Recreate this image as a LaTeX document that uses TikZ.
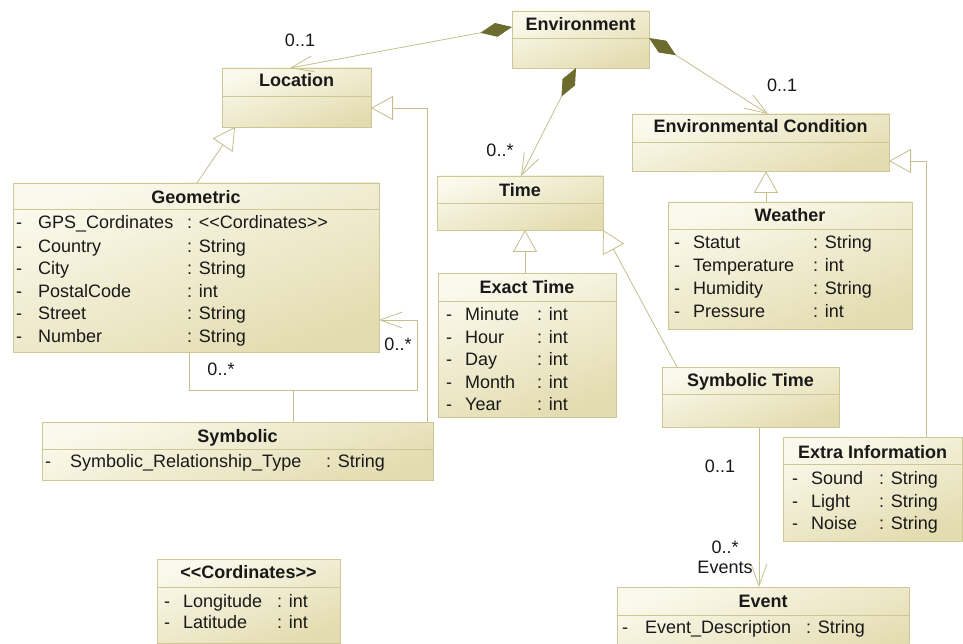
\documentclass[tikz,border=0pt]{standalone}
\usepackage{fontspec}
\setmainfont{Liberation Sans}
\usetikzlibrary{arrows.meta,fit}

\definecolor{umlline}{RGB}{196,191,140}
\definecolor{umlborder}{RGB}{205,199,150}
\definecolor{umltop}{RGB}{251,249,236}
\definecolor{umlbot}{RGB}{227,220,176}
\definecolor{umldiamond}{RGB}{108,108,46}
\definecolor{umltext}{RGB}{25,25,25}

\tikzset{
  clsbox/.style={draw=umlborder, line width=0.9pt, top color=umltop,
    bottom color=umlbot, shading angle=20, inner sep=0pt, outer sep=0pt},
  divider/.style={draw=umlborder, line width=0.9pt},
  utext/.style={text=umltext, font=\fontsize{18}{22}\selectfont, inner sep=0pt},
  utitle/.style={utext, font=\fontsize{18}{22}\selectfont\bfseries},
  link/.style={draw=umlline, line width=0.8pt},
  assoc/.style={link, -{Straight Barb[length=22pt,width=16pt]}},
  comp/.style={link, {Diamond[length=32pt,width=14pt,color=umldiamond,fill=umldiamond]}-{Straight Barb[length=22pt,width=16pt]}},
  gen/.style={link, -{Triangle[length=22pt,width=24pt,fill=white]}},
}

% class box: name, x1, y1, x2, y2, divider y, title, title baseline
\newcommand\umlclass[8]{%
  \node[clsbox, fit={(#2,#3) (#4,#5)}] (#1) {};
  \draw[divider] (#1.west |- 0,#6) -- (#1.east |- 0,#6);
  \node[utitle, anchor=base] (#1-title) at ({(#2+#4)/2},#8) {#7};
}
% attribute row: name, baseline, x dash, x attribute, x colon, attribute, type
\newcommand\umlrow[7]{%
  \node[utext, anchor=base west] (#1) at (#3,#2)
    {\makebox[\dimexpr #4pt-#3pt\relax][l]{-}\makebox[\dimexpr #5pt-#4pt\relax][l]{#6}: #7};
}

\begin{document}
\begin{tikzpicture}[x=1pt,y=-1pt]
\fill[white] (0,0) rectangle (963,644);
\useasboundingbox (0,0) rectangle (963,644);

% classes
\umlclass{env}{512}{11}{649}{68}{38}{Environment}{31}
\umlclass{loc}{222}{68}{371}{127}{96}{Location}{87}
\umlclass{geo}{13}{183}{379}{352}{209}{Geometric}{204}
\umlrow{geo-1}{229}{16}{38}{187}{GPS\_Cordinates}{{<}{<}Cordinates{>}{>}}
\umlrow{geo-2}{252}{16}{38}{187}{Country}{String}
\umlrow{geo-3}{274}{16}{38}{187}{City}{String}
\umlrow{geo-4}{297}{16}{38}{187}{PostalCode}{int}
\umlrow{geo-5}{319}{16}{38}{187}{Street}{String}
\umlrow{geo-6}{342}{16}{38}{187}{Number}{String}

\umlclass{sym}{42}{422}{433}{480}{449}{Symbolic}{442}
\umlrow{sym-1}{467}{45}{70}{326}{Symbolic\_Relationship\_Type}{String}

\umlclass{time}{437}{176}{603}{230}{203}{Time}{197}
\umlclass{ext}{438}{273}{616}{417}{301}{Exact Time}{293}
\umlrow{ext-1}{320}{446}{465}{537}{Minute}{int}
\umlrow{ext-2}{343}{446}{465}{537}{Hour}{int}
\umlrow{ext-3}{365}{446}{465}{537}{Day}{int}
\umlrow{ext-4}{388}{446}{465}{537}{Month}{int}
\umlrow{ext-5}{410}{446}{465}{537}{Year}{int}

\umlclass{ec}{632}{114}{889}{171}{142}{Environmental Condition}{133}
\umlclass{wea}{668}{202}{912}{329}{229}{Weather}{222}
\umlrow{wea-1}{249}{674}{693}{813}{Statut}{String}
\umlrow{wea-2}{272}{674}{693}{813}{Temperature}{int}
\umlrow{wea-3}{294}{674}{693}{813}{Humidity}{String}
\umlrow{wea-4}{317}{674}{693}{813}{Pressure}{int}

\umlclass{syt}{662}{367}{839}{427}{394}{Symbolic Time}{386}

\umlclass{exi}{783}{437}{962}{541}{464}{Extra Information}{458}
\umlrow{exi-1}{484}{792}{811}{879}{Sound}{String}
\umlrow{exi-2}{507}{792}{811}{879}{Light}{String}
\umlrow{exi-3}{529}{792}{811}{879}{Noise}{String}

\umlclass{cor}{157}{559}{340}{643}{587}{{<}{<}Cordinates{>}{>}}{578}
\umlrow{cor-1}{607}{164}{183}{277}{Longitude}{int}
\umlrow{cor-2}{628}{164}{183}{277}{Latitude}{int}

\umlclass{evt}{617}{587}{909}{660}{615}{Event}{607}
\umlrow{evt-1}{633}{622}{645}{806}{Event\_Description}{String}

% compositions of Environment
\draw[comp] (env.west |- 0,27) -- (loc.north -| 290,0);
\draw[comp] (env.south -| 576,0) -- (time.north -| 521,0);
\draw[comp] (env.east |- 0,38) -- (ec.north -| 768,0);

% generalizations
\draw[gen] (geo.north -| 197,0) -- (loc.south -| 235,0);
\draw[gen] (sym.north -| 427,0) |- (loc.east |- 0,108);
\draw[gen] (ext.north -| 525,0) -- (time.south -| 525,0);
\draw[gen] (syt.north -| 677,0) -- (time.south east);
\draw[gen] (wea.north -| 766,0) -- (ec.south -| 766,0);
\draw[gen] (exi.north -| 926,0) |- (ec.east |- 0,161);

% reflexive association of Geometric with its association class
\coordinate (loopa) at (417,390);
\coordinate (loopb) at (293,390);
\draw[assoc] (geo.south -| 189,0) |- (loopa) |- (geo.east |- 0,320);
\draw[link] (sym.north -| loopb) -- (loopb);

% events of a symbolic time
\draw[assoc] (syt.south -| 759,0) -- (evt.north -| 759,0);

% multiplicities and role names
\node[utext, anchor=base] (m-loc) at (300,47) {0..1};
\node[utext, anchor=base] (m-time) at (500,157) {0..*};
\node[utext, anchor=base] (m-ec) at (782,92) {0..1};
\node[utext, anchor=base] (m-geo-a) at (398,350) {0..*};
\node[utext, anchor=base] (m-geo-b) at (221,375) {0..*};
\node[utext, anchor=base] (m-syt) at (720,472) {0..1};
\node[utext, anchor=base] (m-evt) at (725,553) {0..*};
\node[utext, anchor=base] (r-evt) at (725,573) {Events};
\end{tikzpicture}
\end{document}
